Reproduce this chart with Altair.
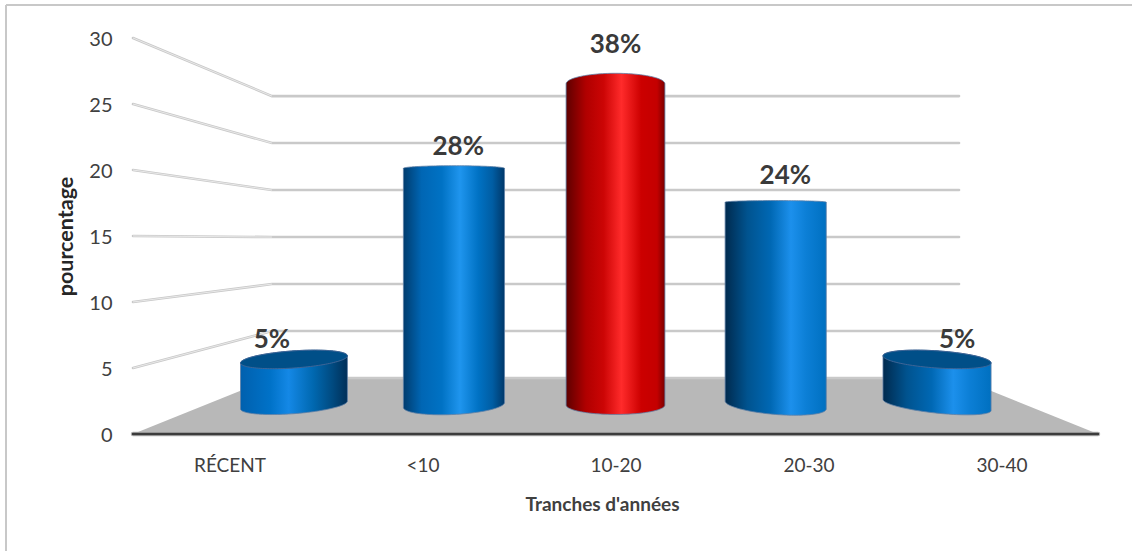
import math
import altair as alt
import pandas as pd

# Category labels and the percentages printed above the cylinders
categories = ["RÉCENT", "<10", "10-20", "20-30", "30-40"]
percentages = [5, 28, 38, 24, 5]
value_ticks = [0, 5, 10, 15, 20, 25, 30]

# Scene geometry: front plane fills the plot, the back wall sits further in
PX_PER_UNIT = 13.2
BACK_LEFT = 0.72
BACK_RIGHT = 4.28
BACK_BASE = 4.24
BACK_SCALE = 0.712
CYL_BASE = 2.2
CYL_PER_PCT = 8.45 / PX_PER_UNIT

centres = [0.834, 1.663, 2.5, 3.33, 4.166]
half_widths = [0.277, 0.262, 0.256, 0.262, 0.28]
bottom_tilt = [0.3, 0.19, 0.0, -0.3, -0.42]
bottom_minor = [0.66, 0.72, 0.72, 0.72, 0.62]
top_tilt = [0.27, 0.0, 0.0, 0.0, -0.27]
top_lift = [0.25, 0.0, 0.0, 0.0, 0.25]
top_minor = [0.65, 0.2, 0.8, 0.12, 0.65]
open_top = [True, False, False, False, True]
label_lat = [0.72, 1.685, 2.5, 3.38, 4.27]
label_gap = [1.45, 1.6, 2.95, 1.95, 1.45]

BLUE_CENTRE = [("#003c6e", 0.0), ("#0066b4", 0.18), ("#0072c4", 0.38), ("#1f95ee", 0.56), ("#0072c4", 0.74), ("#005da3", 0.88), ("#00386a", 1.0)]
RED_CENTRE = [("#5e0000", 0.0), ("#b00000", 0.2), ("#cc0505", 0.38), ("#ff2b2b", 0.56), ("#cc0000", 0.76), ("#c40000", 0.92), ("#7a0000", 1.0)]
BLUE_RIGHT = [("#002a4e", 0.0), ("#00538f", 0.22), ("#0068b4", 0.45), ("#1c90ec", 0.65), ("#0c7fd6", 0.8), ("#0070c0", 1.0)]
BLUE_LEFT = [("#0060ae", 0.0), ("#0072c8", 0.28), ("#1488e6", 0.45), ("#0068b0", 0.68), ("#004a80", 0.86), ("#002f58", 1.0)]
fills = [BLUE_LEFT, BLUE_CENTRE, RED_CENTRE, BLUE_RIGHT, BLUE_RIGHT]

x_enc = alt.X(
    "lat:Q",
    scale=alt.Scale(domain=[0, 5], nice=False, zero=False),
    axis=alt.Axis(
        title="Tranches d'années",
        values=[i + 0.5 for i in range(len(categories))],
        labelExpr="[" + ",".join(f"'{c}'" for c in categories) + "][round(datum.value - 0.5)]",
        grid=False, ticks=False, domain=False,
        labelFont="Lato", labelFontSize=19, labelColor="#404040", labelPadding=22,
        titleFont="Lato", titleFontSize=19, titleFontWeight="bold", titleColor="#404040",
        titlePadding=20, titleX=469,
    ),
)
y_enc = alt.Y(
    "units:Q",
    scale=alt.Scale(domain=[0, 30], nice=False),
    axis=alt.Axis(
        title="pourcentage",
        values=value_ticks,
        grid=False, ticks=False, domain=False,
        labelFont="Lato", labelFontSize=20, labelColor="#404040", labelPadding=21, labelOffset=1,
        titleFont="Lato", titleFontSize=21.5, titleFontWeight="bold", titleColor="#262626",
        titlePadding=11,
    ),
)


def gradient(stops):
    return alt.Gradient(
        gradient="linear", x1=0, x2=1, y1=0, y2=0,
        stops=[alt.GradientStop(color=c, offset=o) for c, o in stops],
    )


def arc_samples(count=61):
    return [-math.cos(math.pi * k / (count - 1)) for k in range(count)]


layers = []
dummy = pd.DataFrame({"lat": [0.0], "units": [0.0]})

# Chart frame: only the top and left edges fall inside the page
layers.append(alt.Chart(dummy).mark_rule(color="#c8c8c8", strokeWidth=2).encode(
    x=alt.value(-127), y=alt.value(-33), y2=alt.value(520)))
layers.append(alt.Chart(dummy).mark_rule(color="#c8c8c8", strokeWidth=2).encode(
    x=alt.value(-127), x2=alt.value(1010), y=alt.value(-33)))

# Floor of the 3D scene
floor = pd.DataFrame({
    "units": [0.0, BACK_BASE],
    "lat": [0.0, BACK_LEFT],
    "lat2": [5.0, BACK_RIGHT],
})
layers.append(alt.Chart(floor).mark_area(orient="horizontal", color="#b8b8b8").encode(
    y=y_enc, x=x_enc, x2="lat2:Q"))

# Gridlines running along the side wall and across the back wall
rows = []
for v in value_ticks:
    back = BACK_BASE + v * BACK_SCALE
    if v > 0:
        rows.append({"tick": v, "order": 0, "lat": 0.0, "units": float(v)})
    rows.append({"tick": v, "order": 1, "lat": BACK_LEFT, "units": back})
    rows.append({"tick": v, "order": 2, "lat": BACK_RIGHT, "units": back})
grid = pd.DataFrame(rows)
layers.append(alt.Chart(grid).mark_line(color="#c9c9c9", strokeWidth=2.6, strokeCap="round").encode(
    x=x_enc, y=y_enc, detail="tick:N", order="order:Q"))
layers.append(alt.Chart(grid[grid["order"] < 2]).mark_line(color="#ececec", strokeWidth=0.9).encode(
    x=x_enc, y=y_enc, detail="tick:N", order="order:Q"))

# Floor front edge
edge = pd.DataFrame({"lat": [0.0, 5.0], "units": [0.0, 0.0]})
layers.append(alt.Chart(edge).mark_line(color="#b4b4b4", strokeWidth=4.5, strokeCap="round").encode(x=x_enc, y=y_enc))
layers.append(alt.Chart(edge).mark_line(color="#3c3c3c", strokeWidth=2.4, strokeCap="round").encode(x=x_enc, y=y_enc))

# Cylinders: the outline follows the top and bottom ellipses, heights come from the percentages
for i, pct in enumerate(percentages):
    top = CYL_BASE + pct * CYL_PER_PCT + top_lift[i]
    outline, cap = [], []
    for t in arc_samples():
        bulge = math.sqrt(max(0.0, 1 - t * t))
        lat = centres[i] + half_widths[i] * t
        upper = top + top_tilt[i] * t + top_minor[i] * bulge
        lower = CYL_BASE + bottom_tilt[i] * t - bottom_minor[i] * bulge
        outline.append({"lat": lat, "units": upper, "units2": lower})
        cap.append({"lat": lat, "units": upper, "units2": top + top_tilt[i] * t - top_minor[i] * bulge})
    layers.append(alt.Chart(pd.DataFrame(outline)).mark_area(
        color=gradient(fills[i]), stroke="#5f7fa6", strokeWidth=1, strokeOpacity=0.8,
    ).encode(x=x_enc, y=y_enc, y2="units2:Q"))
    if open_top[i]:
        layers.append(alt.Chart(pd.DataFrame(cap)).mark_area(
            color="#004f88", stroke="#3f6596", strokeWidth=1,
        ).encode(x=x_enc, y=y_enc, y2="units2:Q"))

# Percentage labels above each cylinder
labels = pd.DataFrame({
    "lat": label_lat,
    "units": [CYL_BASE + p * CYL_PER_PCT + l + g for p, l, g in zip(percentages, top_lift, label_gap)],
    "text": [f"{p}%" for p in percentages],
})
layers.append(alt.Chart(labels).mark_text(
    font="Lato", fontSize=26, fontWeight="bold", color="#3a3a3a",
).encode(x=x_enc, y=y_enc, text="text:N"))

chart = alt.layer(*layers).properties(
    width=965,
    height=396,
    padding={"left": 133, "top": 38, "right": 34, "bottom": 117},
    autosize=alt.AutoSizeParams(type="none"),
    background="#ffffff",
).configure_view(stroke=None)

chart.save("out.html", embed_options={"renderer": "svg", "actions": False})
